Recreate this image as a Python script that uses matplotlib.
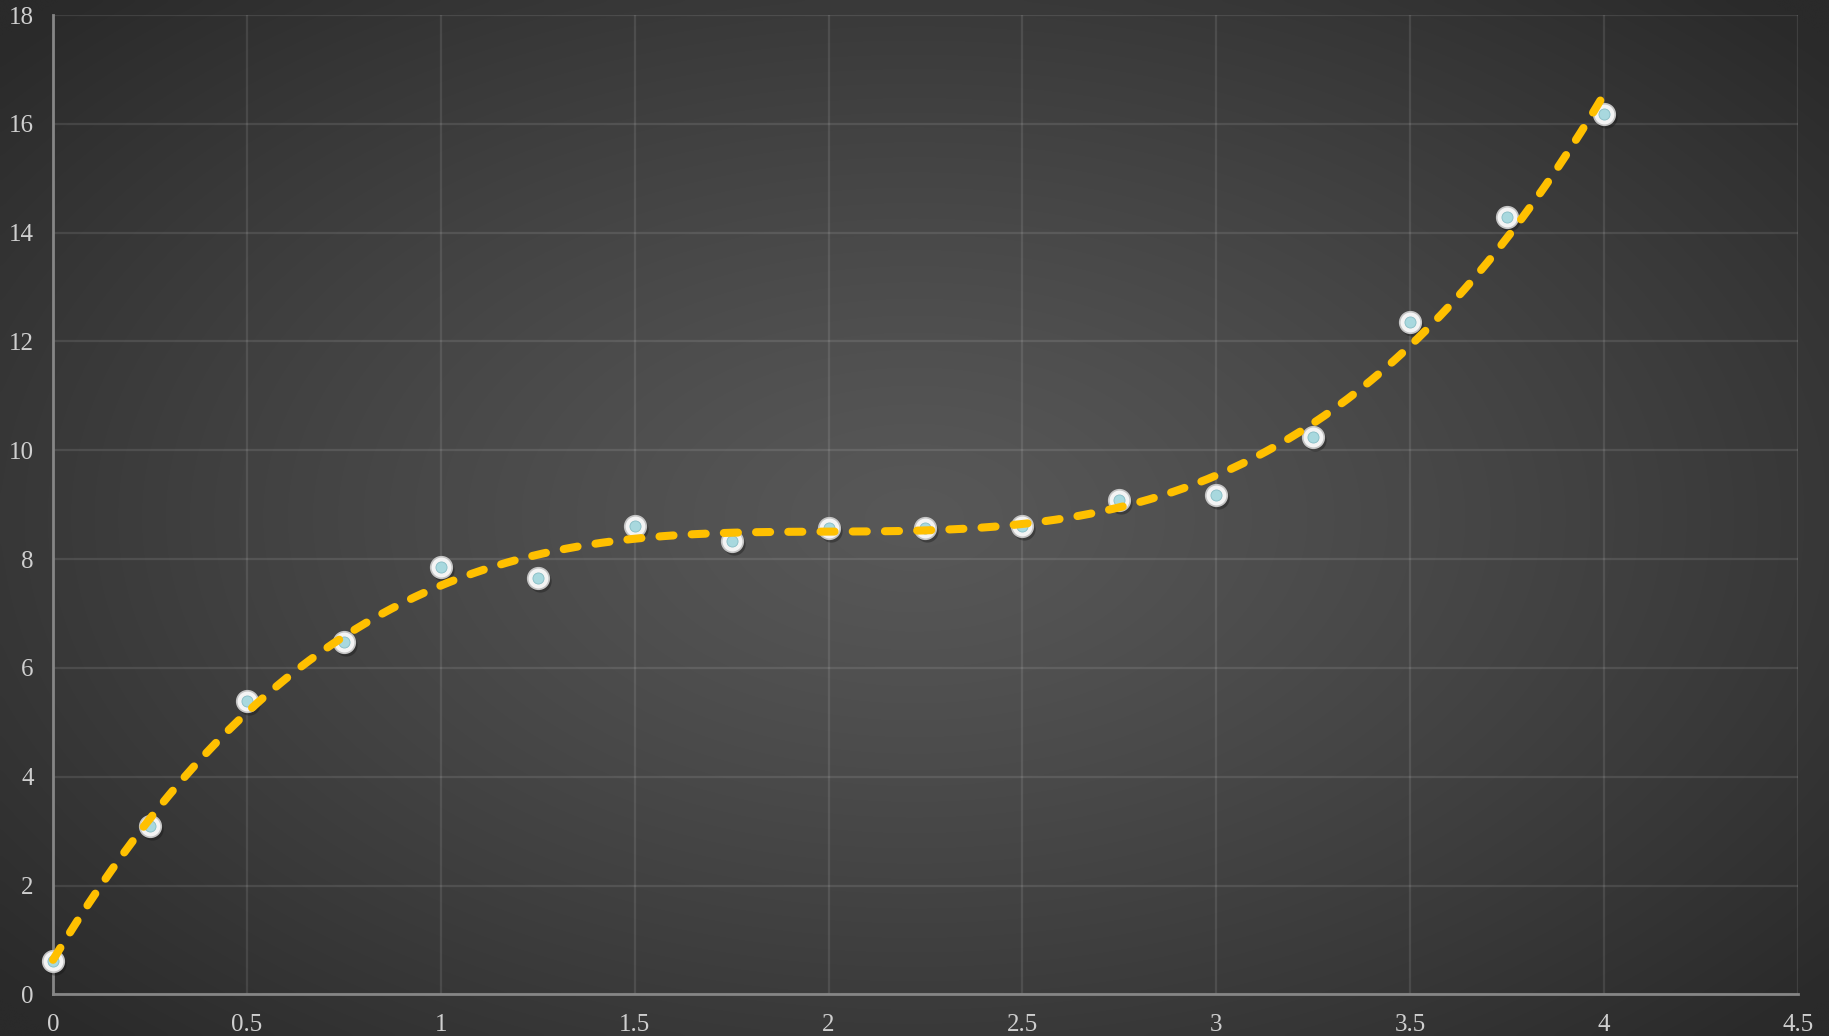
import numpy as np
import matplotlib
matplotlib.use("Agg")
import matplotlib.pyplot as plt
import matplotlib.transforms as mtransforms

# measured points
x_vals = [0, 0.25, 0.5, 0.75, 1.0, 1.25, 1.5, 1.75, 2.0, 2.25, 2.5, 2.75, 3.0, 3.25, 3.5, 3.75, 4.0]
y_vals = [0.62, 3.09, 5.39, 6.48, 7.85, 7.66, 8.60, 8.33, 8.58, 8.58, 8.60, 9.08, 9.18, 10.24, 12.36, 14.29, 16.18]

x_ticks = [0, 0.5, 1, 1.5, 2, 2.5, 3, 3.5, 4, 4.5]
x_labels = ["0", "0.5", "1", "1.5", "2", "2.5", "3", "3.5", "4", "4.5"]
y_ticks = [0, 2, 4, 6, 8, 10, 12, 14, 16, 18]

W, H = 1829, 1036
fig = plt.figure(figsize=(W / 100, H / 100), dpi=100)

# dark radial backdrop
bg = fig.add_axes([0, 0, 1, 1], zorder=-10)
gx, gy = np.meshgrid(np.linspace(0, 1, 400), np.linspace(0, 1, 240))
r = np.sqrt(((gx - 0.5) / 0.66) ** 2 + ((gy - 0.5) / 0.7) ** 2)
r = np.clip(r, 0, 1)
inner, outer = 0x58, 0x2a
shade = (inner + (outer - inner) * r ** 1.2) / 255.0
bg.imshow(np.dstack([shade, shade, shade]), extent=[0, 1, 0, 1], aspect="auto",
          interpolation="bicubic", origin="lower")
bg.axis("off")

ax = fig.add_axes([0.029, 0.0402, 0.954, 0.9453])
ax.patch.set_alpha(0)
ax.set_xlim(0, 4.5)
ax.set_ylim(0, 18)
ax.set_xticks(x_ticks)
ax.set_xticklabels(x_labels)
ax.set_yticks(y_ticks)

ax.grid(True, color="white", alpha=0.1, linewidth=1.6)
ax.set_axisbelow(True)
for side in ["top", "right"]:
    ax.spines[side].set_visible(False)
for side in ["left", "bottom"]:
    ax.spines[side].set_color("#868686")
    ax.spines[side].set_linewidth(2)
ax.tick_params(length=0, pad=14, labelsize=18, labelcolor="#cfcfcf")
for lbl in ax.get_xticklabels() + ax.get_yticklabels():
    lbl.set_family("Liberation Serif")

# markers: shadow, white ring, cyan center
shadow = mtransforms.offset_copy(ax.transData, fig=fig, x=2, y=-3, units="dots")
ax.plot(x_vals, y_vals, "o", ms=16, color="#111111", alpha=0.35, mec="none",
        transform=shadow, zorder=3, clip_on=False)
ax.plot(x_vals, y_vals, "o", ms=15.5, color="#f4f4f4", mec="#c4c4c4", mew=1.2,
        zorder=4, clip_on=False)
ax.plot(x_vals, y_vals, "o", ms=8, color="#a8d8de", mec="#86bcc4", mew=0.6,
        zorder=5, clip_on=False)

# cubic trend line
coef = np.polyfit(x_vals, y_vals, 3)
xs = np.linspace(0, 4, 400)
ax.plot(xs, np.polyval(coef, xs), color="#ffc000", lw=5.8, dashes=(1.75, 2.25),
        dash_capstyle="round", solid_capstyle="round", zorder=6, clip_on=False)

fig.savefig("out.png", dpi=100)
